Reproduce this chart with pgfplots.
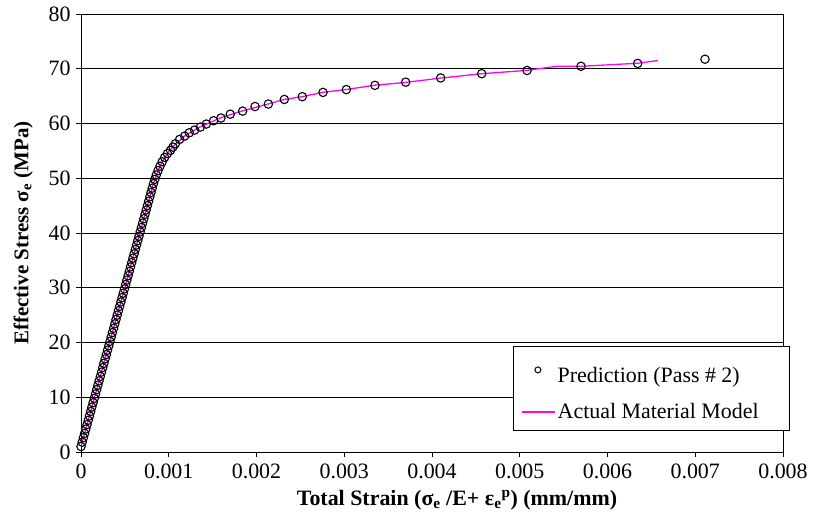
\documentclass[border=0pt]{standalone}
\usepackage{pgfplots}
\pgfplotsset{compat=1.18}
\usepackage{pgfplotstable}
\usepackage{fontspec}
\setmainfont{Liberation Serif}
\definecolor{mag}{RGB}{255,0,255}
\pgfplotstableread{
x y
0 1.0
0.0000138 1.8
0.0000275 2.6
0.0000413 3.4
0.0000550 4.2
0.0000688 5.0
0.0000826 5.8
0.0000963 6.6
0.0001101 7.4
0.0001238 8.2
0.0001376 9.0
0.0001514 9.8
0.0001651 10.6
0.0001789 11.4
0.0001926 12.2
0.0002064 13.0
0.0002202 13.8
0.0002339 14.6
0.0002477 15.4
0.0002614 16.2
0.0002752 17.0
0.0002890 17.8
0.0003027 18.6
0.0003165 19.4
0.0003302 20.2
0.0003440 21.0
0.0003578 21.8
0.0003715 22.6
0.0003853 23.4
0.0003990 24.2
0.0004128 25.0
0.0004266 25.8
0.0004403 26.6
0.0004541 27.4
0.0004678 28.2
0.0004816 29.0
0.0004954 29.8
0.0005091 30.6
0.0005229 31.4
0.0005366 32.2
0.0005504 33.0
0.0005642 33.8
0.0005779 34.6
0.0005917 35.4
0.0006054 36.2
0.0006192 37.0
0.0006330 37.8
0.0006467 38.6
0.0006605 39.4
0.0006742 40.2
0.0006880 41.0
0.0007018 41.8
0.0007155 42.6
0.0007293 43.4
0.0007430 44.2
0.0007568 45.0
0.0007706 45.8
0.0007843 46.6
0.0007981 47.4
0.0008118 48.2
0.0008256 49.0
0.0008410 49.8
0.0008580 50.6
0.0008780 51.4
0.0009000 52.2
0.0009250 53.0
0.0009530 53.8
0.0009850 54.5
0.0010200 55.1
0.0010480 55.7
0.0010750 56.3
0.0011240 57.1
0.0011810 57.7
0.0012340 58.3
0.0012950 58.8
0.0013600 59.35
0.0014280 59.9
0.0015110 60.5
0.0015950 61.0
0.0017010 61.7
0.0018420 62.26
0.0019830 63.1
0.0021350 63.55
0.0023170 64.39
0.0025220 64.90
0.0027580 65.68
0.0030240 66.19
0.0033500 66.97
0.0037000 67.55
0.0040990 68.32
0.0045660 69.10
0.0050830 69.68
0.0056980 70.45
0.0063440 70.97
0.0071110 71.74
}\pred
\pgfplotstableread{
x y
0 1.0
0.0008256 49.0
0.0008780 51.4
0.0009250 53.0
0.0009850 54.5
0.0010500 55.8
0.0011800 57.7
0.0013600 59.4
0.0016000 61.1
0.0018400 62.3
0.0021400 63.6
0.0023200 64.4
0.0025200 64.9
0.0027600 65.7
0.0030200 66.2
0.0033500 67.0
0.0037000 67.5
0.0041000 68.3
0.0045700 69.1
0.0050800 69.7
0.0054200 70.45
0.0057000 70.45
0.0063400 71.0
0.0065750 71.5
}\actual
\begin{document}
\begin{tikzpicture}
\begin{axis}[name=ax, at={(81bp,64bp)}, anchor=south west,
  scale only axis, width=702bp, height=438bp,
  xmin=0, xmax=0.008, ymin=0, ymax=80,
  xtick={0,0.001,0.002,0.003,0.004,0.005,0.006,0.007,0.008},
  xticklabels={0,0.001,0.002,0.003,0.004,0.005,0.006,0.007,0.008},
  ytick={0,10,20,30,40,50,60,70,80},
  scaled x ticks=false,
  /pgf/number format/assume math mode=true,
  tick align=outside, tick pos=left,
  major tick length=5bp,
  ymajorgrids, grid style={black, line width=0.7bp},
  axis line style={black, line width=1bp},
  tick style={black, line width=0.8bp},
  ticklabel style={font=\fontsize{22}{24}\selectfont},
  xticklabel style={yshift=-3bp},
  yticklabel style={xshift=-2bp},
  xlabel={Total Strain (σ\textsubscript{e} /E+ ε\textsubscript{e}\textsuperscript{p}) (mm/mm)},
  ylabel={Effective Stress σ\textsubscript{e} (MPa)},
  xlabel style={font=\bfseries\fontsize{22}{24}\selectfont, yshift=-5bp, xshift=25bp},
  ylabel style={font=\bfseries\fontsize{21}{24}\selectfont, yshift=9bp},
  legend style={at={(axis cs:0.00492,19.4)}, anchor=north west,
    draw=black, line width=0.8bp, fill=white,
    font=\fontsize{22}{24}\selectfont,
    inner xsep=8bp, inner ysep=8bp, row sep=16bp},
  legend cell align=left,
]
\addplot[only marks, mark=o, mark size=4.2bp, black, mark options={line width=1.1bp}, forget plot,
  ] table[x=x,y=y] {\pred};
\addplot[mag, line width=1.3bp, no marks, forget plot] table[x=x,y=y] {\actual};
\addlegendimage{legend image code/.code={\draw[black, line width=1bp] (16bp,0bp) circle (3bp);}}
\addlegendentry{\rule{0pt}{26bp}\makebox[222bp][l]{Prediction (Pass \# 2)}}
\addlegendimage{legend image code/.code={\draw[mag, line width=1.6bp] (0bp,0bp) -- (33bp,0bp);}}
\addlegendentry{\makebox[222bp][l]{Actual Material Model}}
\end{axis}
\pgfresetboundingbox
\path (0,0) rectangle (837bp,516bp);
\end{tikzpicture}
\end{document}
